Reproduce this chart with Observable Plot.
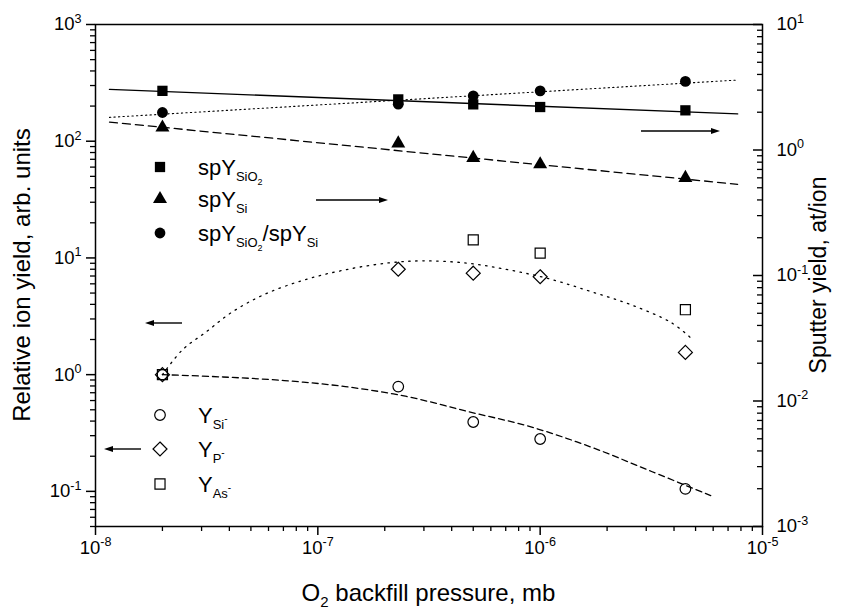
<!DOCTYPE html>
<html><head><meta charset="utf-8">
<script src="https://cdn.jsdelivr.net/npm/d3@7"></script>
<script src="https://cdn.jsdelivr.net/npm/@observablehq/plot@0.6"></script>
<style>
body{margin:0;background:#fff;}
#chart{position:relative;width:841px;height:609px;}
#chart svg{position:absolute;left:0;top:0;}
</style></head><body><div id="chart"></div>
<script>
// ---------- data ----------
const pressure = [2e-8, 2.3e-7, 5e-7, 1e-6, 4.5e-6];           // O2 backfill pressure, mb
// right axis: sputter yield, at/ion
const spY_SiO2 = [2.96, 2.53, 2.31, 2.20, 2.07];
const spY_Si   = [1.51, 1.13, 0.865, 0.77, 0.60];
const spY_ratio = [1.99, 2.32, 2.70, 2.96, 3.52];
// left axis: relative ion yield, arb. units
const Y_Si = [1.0, 0.79, 0.393, 0.281, 0.105];
const Y_P  = [1.0, 8.0, 7.4, 6.9, 1.55];
const Y_As = [1.0, null, 14.3, 11.0, 3.6];
// fitted lines (right axis), endpoints
const fitP = [1.156e-8, 7.73e-6];
const fit_SiO2 = [3.04, 1.94];
const fit_Si = [1.67, 0.533];
const fit_ratio = [1.82, 3.61];
// guide curves (left axis)
const curveP_P = [2e-8, 2.46e-8, 3.16e-8, 4.07e-8, 5.7e-8, 8.71e-8, 1.33e-7, 2.03e-7, 2.97e-7, 4.71e-7, 7.21e-7, 1.1e-6, 1.69e-6, 2.57e-6, 3.9e-6, 4.75e-6];
const curveY_P = [1.0, 1.63, 2.34, 3.39, 4.83, 6.49, 7.91, 9.02, 9.44, 9.02, 7.91, 6.62, 5.15, 3.96, 2.78, 2.07];
const curveP_Si = [2e-8, 3.74e-8, 7.06e-8, 1.33e-7, 2.51e-7, 4.71e-7, 8.93e-7, 1.69e-6, 3.17e-6, 5.85e-6];
const curveY_Si = [1.0, 0.955, 0.89, 0.79, 0.65, 0.484, 0.36, 0.24, 0.148, 0.092];
// axes
const xDomain = [1e-8, 1e-5];
const xMajor = [1e-8, 1e-7, 1e-6, 1e-5];
const yLeftDomain = [0.05, 1000];
const yLeftMajor = [0.1, 1, 10, 100, 1000];
const yRightDomain = [1e-3, 10];
const yRightMajor = [1e-3, 1e-2, 1e-1, 1, 10];
const mult = [2, 3, 4, 5, 6, 7, 8, 9];
function minors(lo, hi, dec) {
  const out = [];
  dec.forEach(d => mult.forEach(m => { const v = d * m; if (v > lo * 0.999 && v < hi * 1.001) out.push(v); }));
  return out;
}
const xMinor = minors(1e-8, 1e-5, [1e-8, 1e-7, 1e-6]);
const yLeftMinor = minors(0.05, 1000, [0.01, 0.1, 1, 10, 100]);
const yRightMinor = minors(1e-3, 10, [1e-3, 1e-2, 1e-1, 1]);

// ---------- layout ----------
const FONT = '"Liberation Sans", Arial, Helvetica, sans-serif';
const W = 841, H = 609, mL = 95, mR = 79, mT = 24, mB = 83;
const innerW = W - mL - mR;
const TICKFS = 18.5;
const fmt = d => "10^" + Math.round(Math.log10(d));
const rows = (xs, ys) => xs.map((x, i) => ({x, y: ys[i]}));

const svg1 = Plot.plot({
  width: W, height: H, marginLeft: mL, marginRight: mR, marginTop: mT, marginBottom: mB,
  style: {fontFamily: FONT, fontSize: TICKFS + "px", color: "black", background: "white", overflow: "visible"},
  x: {type: "log", domain: xDomain},
  y: {type: "log", domain: yLeftDomain},
  marks: [
    Plot.frame({stroke: "black", strokeWidth: 1.5}),
    Plot.axisX(xMajor, {tickSize: 9, tickPadding: 5, tickFormat: fmt, label: null, strokeWidth: 1.5, fontSize: TICKFS}),
    Plot.axisX(xMinor, {tickSize: 5, tickFormat: () => "", label: null, strokeWidth: 1.3}),
    Plot.axisY(yLeftMajor, {anchor: "left", tickSize: 9, tickPadding: 5, tickFormat: fmt, label: null, strokeWidth: 1.5, fontSize: TICKFS}),
    Plot.axisY(yLeftMinor, {anchor: "left", tickSize: 5, tickFormat: () => "", label: null, strokeWidth: 1.3}),
    Plot.line(rows(curveP_P, curveY_P), {x: "x", y: "y", stroke: "black", strokeWidth: 1.3, strokeDasharray: "1.5,5.5", curve: "catmull-rom"}),
    Plot.line(rows(curveP_Si, curveY_Si), {x: "x", y: "y", stroke: "black", strokeWidth: 1.3, strokeDasharray: "6,4", curve: "catmull-rom"}),
    Plot.dot(rows(pressure, Y_Si), {x: "x", y: "y", symbol: "circle", r: 5.3, stroke: "black", fill: "none", strokeWidth: 1.2}),
    Plot.dot(rows(pressure, Y_P), {x: "x", y: "y", symbol: "diamond2", r: 6.3, stroke: "black", fill: "none", strokeWidth: 1.2}),
    Plot.dot(rows(pressure, Y_As), {x: "x", y: "y", symbol: "square2", r: 6.4, stroke: "black", fill: "none", strokeWidth: 1.2})
  ]
});

const svg2 = Plot.plot({
  width: W, height: H, marginLeft: mL, marginRight: mR, marginTop: mT, marginBottom: mB,
  style: {fontFamily: FONT, fontSize: TICKFS + "px", color: "black", background: "transparent", overflow: "visible"},
  x: {type: "log", domain: xDomain, axis: null},
  y: {type: "log", domain: yRightDomain},
  marks: [
    Plot.axisY(yRightMajor, {anchor: "right", tickSize: 0, tickPadding: 14, tickFormat: fmt, label: null, fontSize: TICKFS}),
    Plot.tickY(yRightMajor, {y: d => d, insetLeft: innerW - 9, stroke: "black", strokeWidth: 1.5}),
    Plot.tickY(yRightMinor, {y: d => d, insetLeft: innerW - 5, stroke: "black", strokeWidth: 1.3}),
    Plot.line(rows(fitP, fit_SiO2), {x: "x", y: "y", stroke: "black", strokeWidth: 1.4}),
    Plot.line(rows(fitP, fit_Si), {x: "x", y: "y", stroke: "black", strokeWidth: 1.3, strokeDasharray: "8,5"}),
    Plot.line(rows(fitP, fit_ratio), {x: "x", y: "y", stroke: "black", strokeWidth: 1.1, strokeDasharray: "1.3,3.2"}),
    Plot.dot(rows(pressure, spY_SiO2), {x: "x", y: "y", symbol: "square", r: 5.8, fill: "black"}),
    Plot.dot(rows(pressure, spY_Si), {x: "x", y: "y", symbol: "triangle", r: 5.2, fill: "black"}),
    Plot.dot(rows(pressure, spY_ratio), {x: "x", y: "y", symbol: "circle", r: 5.4, fill: "black"})
  ]
});

// superscript exponents in tick labels
function supify(svg) {
  d3.select(svg).selectAll("text").each(function() {
    const m = /^10\^(-?\d+)$/.exec(this.textContent);
    if (!m) return;
    const s = d3.select(this);
    s.text(null);
    s.append("tspan").text("10");
    s.append("tspan").attr("dy", "-0.6em").attr("font-size", "0.68em").text(m[1]);
  });
}
supify(svg1); supify(svg2);

// annotations: titles, legend, arrows
const g = d3.select(svg2).append("g").attr("font-family", FONT).attr("fill", "black").attr("text-anchor", "start");
// axis titles
const xt = g.append("text").attr("x", (mL + W - mR) / 2).attr("y", 601).attr("text-anchor", "middle").attr("font-size", 24);
xt.append("tspan").text("O");
xt.append("tspan").attr("font-size", 15).attr("dy", 6).text("2");
xt.append("tspan").attr("dy", -6).text(" backfill pressure, mb");
g.append("text").attr("transform", `translate(30,${(mT + H - mB) / 2}) rotate(-90)`).attr("text-anchor", "middle").attr("font-size", 24).text("Relative ion yield, arb. units");
g.append("text").attr("transform", `translate(826,${(mT + H - mB) / 2}) rotate(-90)`).attr("text-anchor", "middle").attr("font-size", 23).text("Sputter yield, at/ion");

// legend
const LX = 160, TX = 198;
function sym(type, r, y, filled) {
  g.append("path").attr("transform", `translate(${LX},${y})`)
    .attr("d", d3.symbol(type, Math.PI * r * r)())
    .attr("fill", filled ? "black" : "none").attr("stroke", "black").attr("stroke-width", filled ? 0 : 1.2);
}
function label(y, parts) {
  const t = g.append("text").attr("x", TX).attr("y", y + 8).attr("font-size", 22).attr("text-anchor", "start");
  let cur = 0;
  parts.forEach(([txt, size, off]) => {
    t.append("tspan").attr("font-size", size).attr("dy", off - cur).text(txt);
    cur = off;
  });
}
sym(d3.symbolSquare, 5.8, 167, true);
label(167, [["spY", 22, 0], ["SiO", 13, 6], ["2", 9, 10]]);
sym(d3.symbolTriangle, 5.2, 199, true);
label(199, [["spY", 22, 0], ["Si", 13, 6]]);
sym(d3.symbolCircle, 5.4, 233, true);
label(233, [["spY", 22, 0], ["SiO", 13, 6], ["2", 9, 10], ["/spY", 22, 0], ["Si", 13, 6]]);
sym(d3.symbolCircle, 5.3, 415, false);
label(415, [["Y", 22, 0], ["Si", 13, 6], ["-", 10, -1]]);
sym(d3.symbolDiamond2, 6.3, 449, false);
label(449, [["Y", 22, 0], ["P", 13, 6], ["-", 10, -1]]);
sym(d3.symbolSquare2, 6.4, 484, false);
label(484, [["Y", 22, 0], ["As", 13, 6], ["-", 10, -1]]);

function arrow(x1, x2, y) {
  const dir = Math.sign(x2 - x1);
  g.append("line").attr("x1", x1).attr("x2", x2 - dir * 7).attr("y1", y).attr("y2", y).attr("stroke", "black").attr("stroke-width", 1.4);
  g.append("path").attr("d", `M${x2},${y} L${x2 - dir * 9},${y - 3} L${x2 - dir * 9},${y + 3} Z`).attr("fill", "black");
}
arrow(641, 720, 131);
arrow(316, 388, 200);
arrow(182, 145, 323);
arrow(141, 104, 449);

const c = document.getElementById("chart");
c.appendChild(svg1);
c.appendChild(svg2);
</script></body></html>
